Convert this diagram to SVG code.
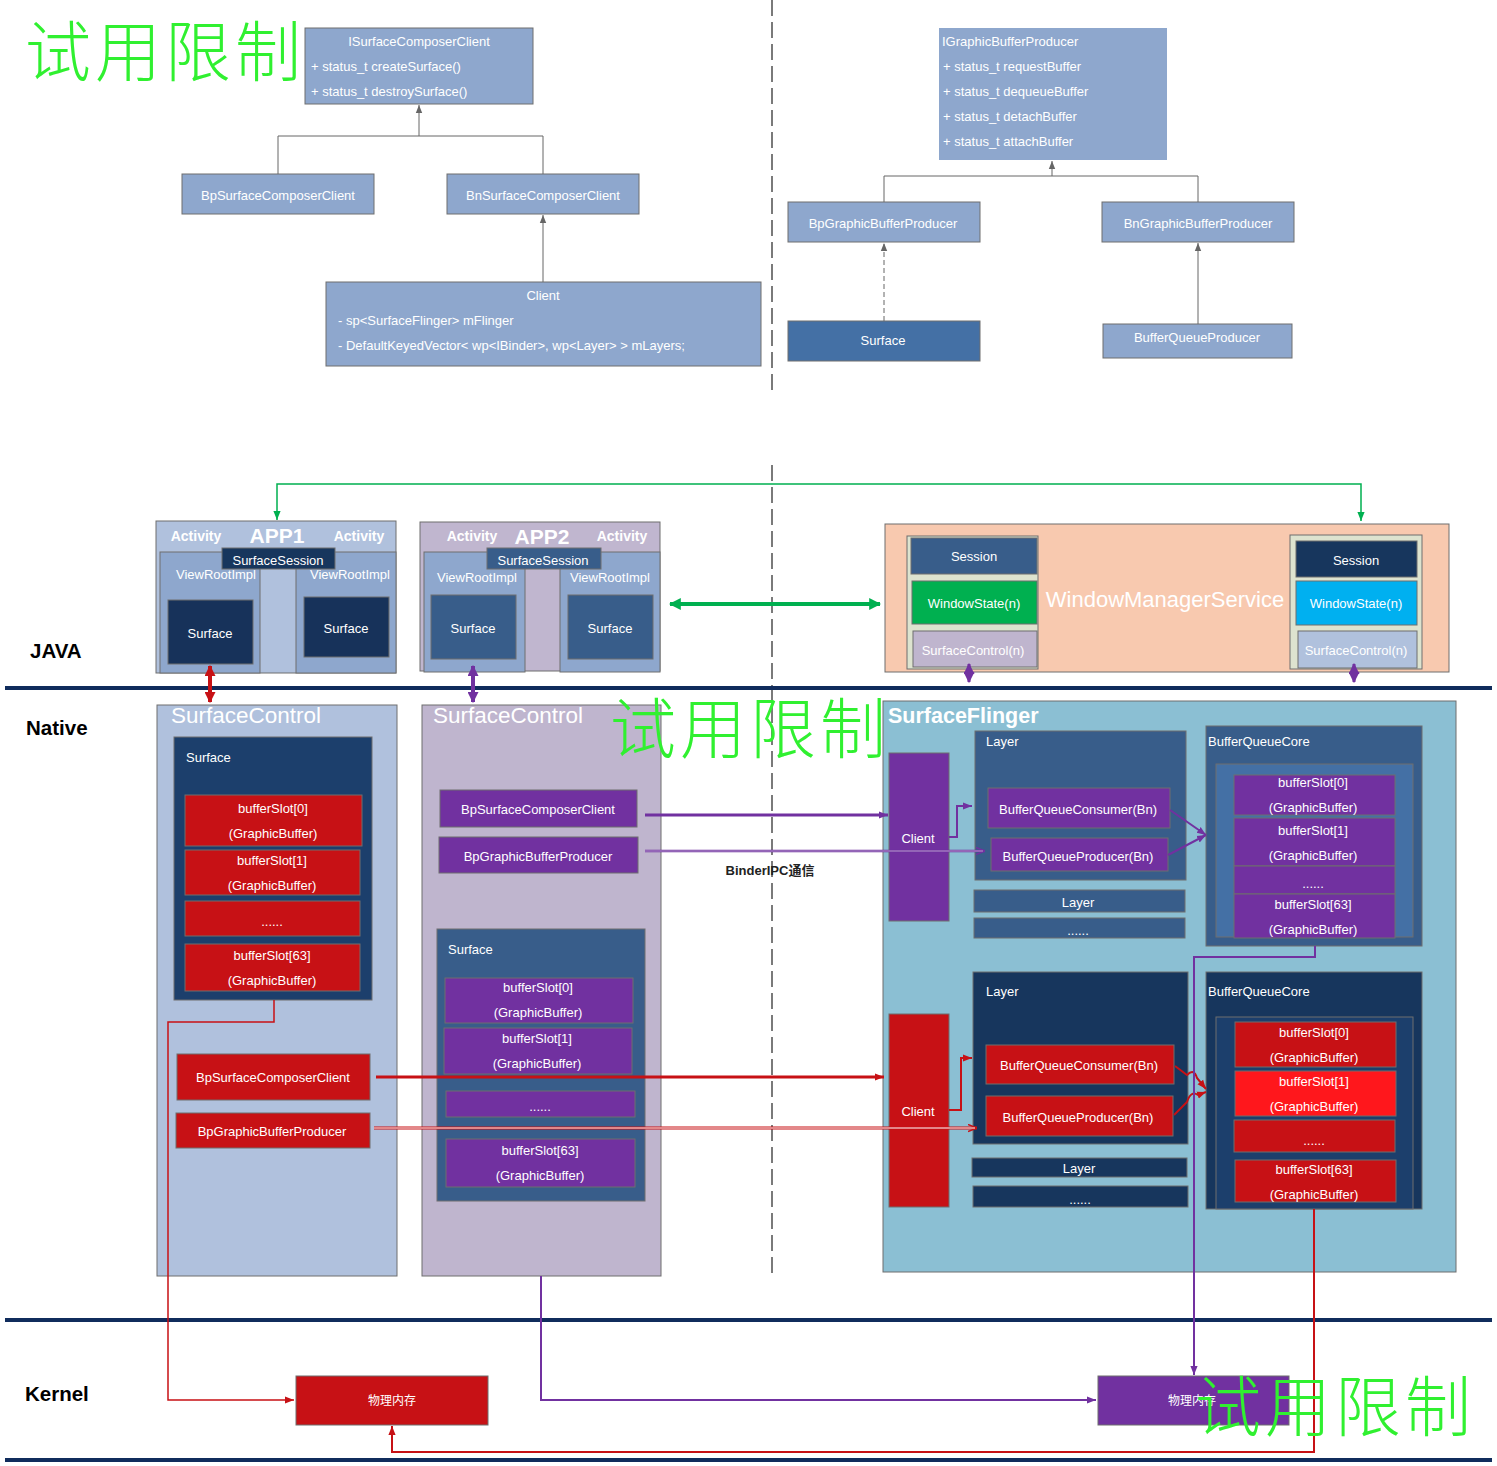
<svg xmlns="http://www.w3.org/2000/svg" width="1497" height="1466" viewBox="0 0 1497 1466">
<defs>
<style>
text{font-family:"Liberation Sans","Noto Sans","Noto Sans CJK SC",Arial,sans-serif;font-size:13px;fill:#fff;dominant-baseline:central}
.m{text-anchor:middle}
.bx{stroke:#6E6E6E;stroke-width:1}
.uml{fill:#8EA7CD}
.red{fill:#C71115}
.pur{fill:#7131A0}
.navy{fill:#17365D}
.blu{fill:#385D8A}
.lbl{fill:#000;font-weight:bold;font-size:20.5px}
.act{font-weight:bold;font-size:14px}
.app{font-weight:bold;font-size:21px}
.title{font-size:22.5px}
.wms{font-size:22px}
.sf{font-size:21.5px;font-weight:bold}
.mem{font-size:12px}
.ipc{font-size:13px;font-weight:bold;fill:#222}
.wm{font-family:"Noto Sans CJK SC",sans-serif;font-weight:300;font-size:66px;fill:#30F030;letter-spacing:4px}
.sep{stroke:#102C5C;stroke-width:4}
</style>
<marker id="ag" viewBox="0 0 10 10" refX="10" refY="5" markerWidth="8" markerHeight="8" markerUnits="userSpaceOnUse" orient="auto-start-reverse"><path d="M0,1 L10,5 L0,9 z" fill="#666"/></marker>
<marker id="agr" viewBox="0 0 10 10" refX="10" refY="5" markerWidth="9" markerHeight="9" markerUnits="userSpaceOnUse" orient="auto-start-reverse"><path d="M0,1 L10,5 L0,9 z" fill="#00B050"/></marker>
<marker id="agrT" viewBox="0 0 10 10" refX="9" refY="5" markerWidth="12" markerHeight="12" markerUnits="userSpaceOnUse" orient="auto-start-reverse"><path d="M0,0 L10,5 L0,10 z" fill="#00B050"/></marker>
<marker id="ar" viewBox="0 0 10 10" refX="9" refY="5" markerWidth="11" markerHeight="11" markerUnits="userSpaceOnUse" orient="auto-start-reverse"><path d="M0,0 L10,5 L0,10 z" fill="#C71115"/></marker>
<marker id="ars" viewBox="0 0 10 10" refX="10" refY="5" markerWidth="9" markerHeight="9" markerUnits="userSpaceOnUse" orient="auto-start-reverse"><path d="M0,1 L10,5 L0,9 z" fill="#C71115"/></marker>
<marker id="ap" viewBox="0 0 10 10" refX="9" refY="5" markerWidth="11" markerHeight="11" markerUnits="userSpaceOnUse" orient="auto-start-reverse"><path d="M0,0 L10,5 L0,10 z" fill="#7131A0"/></marker>
<marker id="aps" viewBox="0 0 10 10" refX="10" refY="5" markerWidth="9" markerHeight="9" markerUnits="userSpaceOnUse" orient="auto-start-reverse"><path d="M0,1 L10,5 L0,9 z" fill="#7131A0"/></marker>
<marker id="apo" viewBox="0 0 10 10" refX="10" refY="5" markerWidth="9" markerHeight="9" markerUnits="userSpaceOnUse" orient="auto"><path d="M0,1 L10,5 L0,9" fill="none" stroke="#7131A0" stroke-width="1.5"/></marker>
<marker id="aro" viewBox="0 0 10 10" refX="10" refY="5" markerWidth="9" markerHeight="9" markerUnits="userSpaceOnUse" orient="auto"><path d="M0,1 L10,5 L0,9" fill="none" stroke="#C71115" stroke-width="1.5"/></marker>
</defs>
<rect width="1497" height="1466" fill="#fff"/>

<!-- dashed divider and layer separators -->
<g id="dividers">
<path d="M772,0 V395 M772,465 V1275" stroke="#7A7A7A" stroke-width="2" stroke-dasharray="16,6" fill="none"/>
<line class="sep" x1="5" y1="688" x2="1492" y2="688"/>
<line class="sep" x1="5" y1="1320" x2="1492" y2="1320"/>
<line class="sep" x1="5" y1="1460" x2="1492" y2="1460"/>
<text class="lbl" x="30" y="650">JAVA</text>
<text class="lbl" x="26" y="727">Native</text>
<text class="lbl" x="25" y="1393">Kernel</text>
</g>

<!-- Top UML: ISurfaceComposerClient -->
<g id="n-iscc"><rect class="uml bx" x="305" y="28" width="228" height="76"/>
<text class="m" x="419" y="41">ISurfaceComposerClient</text>
<text x="311" y="66">+ status_t createSurface()</text>
<text x="311" y="91">+ status_t destroySurface()</text></g>
<g id="n-bpscc-top"><rect class="uml bx" x="182" y="174" width="192" height="40"/><text class="m" x="278" y="195">BpSurfaceComposerClient</text></g>
<g id="n-bnscc-top"><rect class="uml bx" x="447" y="174" width="192" height="40"/><text class="m" x="543" y="195">BnSurfaceComposerClient</text></g>
<g id="n-client-top"><rect class="uml bx" x="326" y="282" width="435" height="84"/>
<text class="m" x="543" y="295">Client</text>
<text x="338" y="320">-   sp&lt;SurfaceFlinger&gt; mFlinger</text>
<text x="338" y="345">-   DefaultKeyedVector&lt; wp&lt;IBinder&gt;, wp&lt;Layer&gt; &gt; mLayers;</text></g>

<!-- Top UML: IGraphicBufferProducer -->
<g id="n-igbp"><rect class="uml" x="939" y="28" width="228" height="132"/>
<text x="942" y="41">IGraphicBufferProducer</text>
<text x="943" y="66">+ status_t requestBuffer</text>
<text x="943" y="91">+ status_t dequeueBuffer</text>
<text x="943" y="116">+ status_t detachBuffer</text>
<text x="943" y="141">+ status_t attachBuffer</text></g>
<g id="n-bpgbp-top"><rect class="uml bx" x="788" y="202" width="192" height="40"/><text class="m" x="883" y="223">BpGraphicBufferProducer</text></g>
<g id="n-bngbp-top"><rect class="uml bx" x="1102" y="202" width="192" height="40"/><text class="m" x="1198" y="223">BnGraphicBufferProducer</text></g>
<g id="n-surface-top"><rect class="bx" fill="#4470A5" x="788" y="321" width="192" height="40"/><text class="m" x="883" y="340">Surface</text></g>
<g id="n-bqp-top"><rect class="uml bx" x="1103" y="324" width="189" height="34"/><text class="m" x="1197" y="337">BufferQueueProducer</text></g>

<!-- JAVA layer: APP1 -->
<g id="n-app1">
<rect class="bx" fill="#B0C1DD" x="156" y="521" width="240" height="152"/>
<text class="act m" x="196" y="536">Activity</text>
<text class="app m" x="277" y="535">APP1</text>
<text class="act m" x="359" y="536">Activity</text>
<rect class="bx uml" x="160" y="552" width="100" height="121"/>
<rect class="bx uml" x="296" y="552" width="100" height="121"/>
<text class="m" x="216" y="574">ViewRootImpl</text>
<text class="m" x="350" y="574">ViewRootImpl</text>
<rect class="bx" fill="#17325A" x="168" y="600" width="85" height="64"/><text class="m" x="210" y="633">Surface</text>
<rect class="bx" fill="#17325A" x="304" y="597" width="85" height="60"/><text class="m" x="346" y="628">Surface</text>
<rect class="bx navy" x="222" y="548" width="113" height="21"/><text class="m" x="278" y="560">SurfaceSession</text>
</g>
<!-- JAVA layer: APP2 -->
<g id="n-app2">
<rect class="bx" fill="#C0B6CF" x="420" y="522" width="240" height="149"/>
<text class="act m" x="472" y="536">Activity</text>
<text class="app m" x="542" y="536">APP2</text>
<text class="act m" x="622" y="536">Activity</text>
<rect class="bx uml" x="424" y="552" width="101" height="120"/>
<rect class="bx uml" x="560" y="552" width="100" height="120"/>
<text class="m" x="477" y="577">ViewRootImpl</text>
<text class="m" x="610" y="577">ViewRootImpl</text>
<rect class="bx blu" x="431" y="595" width="85" height="64"/><text class="m" x="473" y="628">Surface</text>
<rect class="bx blu" x="568" y="595" width="85" height="64"/><text class="m" x="610" y="628">Surface</text>
<rect class="bx blu" x="487" y="548" width="114" height="21"/><text class="m" x="543" y="560">SurfaceSession</text>
</g>
<!-- WindowManagerService -->
<g id="n-wms">
<rect class="bx" fill="#F8C9AF" x="885" y="524" width="564" height="148"/>
<text class="m wms" x="1165" y="599">WindowManagerService</text>
<rect class="bx" fill="#DDE3CF" x="907" y="536" width="131" height="133"/>
<rect class="bx blu" x="911" y="538" width="126" height="36"/><text class="m" x="974" y="556">Session</text>
<rect class="bx" fill="#00B050" x="912" y="581" width="125" height="43"/><text class="m" x="974" y="603">WindowState(n)</text>
<rect class="bx" fill="#BFB5CE" x="913" y="631" width="124" height="36"/><text class="m" x="973" y="650">SurfaceControl(n)</text>
<rect class="bx" fill="#DDE3CF" x="1290" y="535" width="132" height="134"/>
<rect class="bx navy" x="1296" y="541" width="121" height="36"/><text class="m" x="1356" y="560">Session</text>
<rect class="bx" fill="#00B0F0" x="1296" y="581" width="121" height="44"/><text class="m" x="1356" y="603">WindowState(n)</text>
<rect class="bx" fill="#B0C1DD" x="1298" y="631" width="119" height="37"/><text class="m" x="1356" y="650">SurfaceControl(n)</text>
</g>

<!-- Native: left SurfaceControl -->
<g id="n-sc1">
<rect class="bx" fill="#B0C1DD" x="157" y="705" width="240" height="571"/>
<text class="title" x="171" y="715">SurfaceControl</text>
<rect class="bx" fill="#1C3F6C" x="174" y="737" width="198" height="263"/>
<text x="186" y="757">Surface</text>
<rect class="bx red" x="185" y="795" width="177" height="51"/><text class="m" x="273" y="808">bufferSlot[0]</text><text class="m" x="273" y="833">(GraphicBuffer)</text>
<rect class="bx red" x="185" y="850" width="175" height="45"/><text class="m" x="272" y="860">bufferSlot[1]</text><text class="m" x="272" y="885">(GraphicBuffer)</text>
<rect class="bx red" x="185" y="901" width="175" height="35"/><text class="m" x="272" y="921">......</text>
<rect class="bx red" x="185" y="944" width="175" height="47"/><text class="m" x="272" y="955">bufferSlot[63]</text><text class="m" x="272" y="980">(GraphicBuffer)</text>
<rect class="bx red" x="177" y="1054" width="193" height="46"/><text class="m" x="273" y="1077">BpSurfaceComposerClient</text>
<rect class="bx red" x="176" y="1113" width="194" height="35"/><text class="m" x="272" y="1131">BpGraphicBufferProducer</text>
</g>
<!-- Native: middle SurfaceControl -->
<g id="n-sc2">
<rect class="bx" fill="#BFB5CE" x="422" y="705" width="239" height="571"/>
<text class="title" x="433" y="715">SurfaceControl</text>
<rect class="bx pur" x="440" y="790" width="197" height="37"/><text class="m" x="538" y="809">BpSurfaceComposerClient</text>
<rect class="bx pur" x="439" y="837" width="199" height="36"/><text class="m" x="538" y="856">BpGraphicBufferProducer</text>
<rect class="bx blu" x="437" y="929" width="208" height="272"/>
<text x="448" y="949">Surface</text>
<rect class="bx pur" x="445" y="978" width="188" height="45"/><text class="m" x="538" y="987">bufferSlot[0]</text><text class="m" x="538" y="1012">(GraphicBuffer)</text>
<rect class="bx pur" x="444" y="1028" width="188" height="46"/><text class="m" x="537" y="1038">bufferSlot[1]</text><text class="m" x="537" y="1063">(GraphicBuffer)</text>
<rect class="bx pur" x="446" y="1091" width="189" height="26"/><text class="m" x="540" y="1106">......</text>
<rect class="bx pur" x="446" y="1139" width="189" height="48"/><text class="m" x="540" y="1150">bufferSlot[63]</text><text class="m" x="540" y="1175">(GraphicBuffer)</text>
</g>
<!-- Native: SurfaceFlinger -->
<g id="n-sf">
<rect class="bx" fill="#8BBFD3" x="883" y="701" width="573" height="571"/>
<text class="sf" x="888" y="716">SurfaceFlinger</text>
<rect class="bx pur" x="889" y="753" width="60" height="168"/><text class="m" x="918" y="838">Client</text>
<rect class="bx blu" x="975" y="731" width="211" height="149"/><text x="986" y="741">Layer</text>
<rect class="bx pur" x="988" y="788" width="182" height="40"/><text class="m" x="1078" y="809">BufferQueueConsumer(Bn)</text>
<rect class="bx pur" x="991" y="838" width="177" height="33"/><text class="m" x="1078" y="856">BufferQueueProducer(Bn)</text>
<rect class="bx blu" x="974" y="890" width="211" height="22"/><text class="m" x="1078" y="902">Layer</text>
<rect class="bx blu" x="974" y="918" width="211" height="20"/><text class="m" x="1078" y="930">......</text>
<rect class="bx blu" x="1206" y="726" width="216" height="220"/><text x="1208" y="741">BufferQueueCore</text>
<rect class="bx" fill="#4470A5" x="1216" y="764" width="197" height="173"/>
<rect class="bx pur" x="1234" y="775" width="161" height="40"/><text class="m" x="1313" y="782">bufferSlot[0]</text><text class="m" x="1313" y="807">(GraphicBuffer)</text>
<rect class="bx pur" x="1234" y="818" width="161" height="48"/><text class="m" x="1313" y="830">bufferSlot[1]</text><text class="m" x="1313" y="855">(GraphicBuffer)</text>
<rect class="bx pur" x="1234" y="866" width="161" height="28"/><text class="m" x="1313" y="883">......</text>
<rect class="bx pur" x="1234" y="894" width="161" height="44"/><text class="m" x="1313" y="904">bufferSlot[63]</text><text class="m" x="1313" y="929">(GraphicBuffer)</text>
<rect class="bx red" x="889" y="1014" width="60" height="193"/><text class="m" x="918" y="1111">Client</text>
<rect class="bx navy" x="973" y="972" width="215" height="172"/><text x="986" y="991">Layer</text>
<rect class="bx red" x="986" y="1045" width="188" height="39"/><text class="m" x="1079" y="1065">BufferQueueConsumer(Bn)</text>
<rect class="bx red" x="986" y="1096" width="187" height="40"/><text class="m" x="1078" y="1117">BufferQueueProducer(Bn)</text>
<rect class="bx navy" x="972" y="1158" width="215" height="19"/><text class="m" x="1079" y="1168">Layer</text>
<rect class="bx navy" x="973" y="1186" width="215" height="21"/><text class="m" x="1080" y="1199">......</text>
<rect class="bx navy" x="1206" y="972" width="216" height="237"/><text x="1208" y="991">BufferQueueCore</text>
<rect class="bx" fill="#1C3F6C" x="1216" y="1017" width="197" height="192"/>
<rect class="bx red" x="1235" y="1022" width="161" height="45"/><text class="m" x="1314" y="1032">bufferSlot[0]</text><text class="m" x="1314" y="1057">(GraphicBuffer)</text>
<rect class="bx" fill="#FF171C" x="1235" y="1071" width="161" height="45"/><text class="m" x="1314" y="1081">bufferSlot[1]</text><text class="m" x="1314" y="1106">(GraphicBuffer)</text>
<rect class="bx red" x="1234" y="1120" width="161" height="32"/><text class="m" x="1314" y="1140">......</text>
<rect class="bx red" x="1235" y="1160" width="161" height="42"/><text class="m" x="1314" y="1169">bufferSlot[63]</text><text class="m" x="1314" y="1194">(GraphicBuffer)</text>
</g>

<!-- Kernel -->
<g id="n-mem1"><rect class="red" x="296" y="1376" width="192" height="49" stroke="#6E6E6E"/><text class="m mem" x="392" y="1401">物理内存</text></g>
<g id="n-mem2"><rect class="pur" x="1098" y="1376" width="191" height="49" stroke="#6E6E6E"/><text class="m mem" x="1192" y="1401">物理内存</text></g>

<!-- Connectors -->
<g id="connectors" fill="none">
<path d="M278,174 V136 H543 V174" stroke="#666"/>
<path d="M419,136 V105" stroke="#666" marker-end="url(#ag)"/>
<path d="M543,282 V215" stroke="#666" marker-end="url(#ag)"/>
<path d="M884,202 V176 H1198 V202" stroke="#666"/>
<path d="M1052,176 V161" stroke="#666" marker-end="url(#ag)"/>
<path d="M884,321 V243" stroke="#666" stroke-dasharray="5,3" marker-end="url(#ag)"/>
<path d="M1198,324 V243" stroke="#666" marker-end="url(#ag)"/>
<path d="M277,520 V484 H1361 V521" stroke="#00B050" stroke-width="1.5" marker-start="url(#agr)" marker-end="url(#agr)"/>
<path d="M670,604 H880" stroke="#00B050" stroke-width="4" marker-start="url(#agrT)" marker-end="url(#agrT)"/>
<path d="M210,666 V702" stroke="#C71115" stroke-width="4" marker-start="url(#ar)" marker-end="url(#ar)"/>
<path d="M473,666 V702" stroke="#7131A0" stroke-width="4" marker-start="url(#ap)" marker-end="url(#ap)"/>
<path d="M969,664 V682" stroke="#7131A0" stroke-width="3" marker-start="url(#ap)" marker-end="url(#ap)"/>
<path d="M1354,664 V682" stroke="#7131A0" stroke-width="3" marker-start="url(#ap)" marker-end="url(#ap)"/>
<path d="M645,815 H888" stroke="#7131A0" stroke-width="3" marker-end="url(#aps)"/>
<path d="M645,851 H985" stroke="#7131A0" stroke-width="2.5" marker-end="url(#apo)"/>
<path d="M645,851 H983" stroke="#C9B5DB" stroke-width="0.8"/>
<text class="m ipc" x="770" y="870">BinderIPC通信</text>
<path d="M376,1077 H884" stroke="#C71115" stroke-width="3" marker-end="url(#ars)"/>
<path d="M374,1128 H977" stroke="#C71115" stroke-width="3" marker-end="url(#aro)"/>
<path d="M374,1128 H975" stroke="#fff" stroke-width="1"/>
<path d="M949,837 H957 V806 H972" stroke="#7131A0" stroke-width="2" marker-end="url(#aps)"/>
<path d="M1170,810 L1206,835" stroke="#7131A0" stroke-width="2" marker-end="url(#aps)"/>
<path d="M1168,855 L1206,835" stroke="#7131A0" stroke-width="2" marker-end="url(#aps)"/>
<path d="M949,1110 H961 V1058 H972" stroke="#C71115" stroke-width="2" marker-end="url(#ars)"/>
<path d="M1175,1066 L1187,1075 Q1194,1068 1197,1078 L1206,1089" stroke="#C71115" stroke-width="2" marker-end="url(#ars)"/>
<path d="M1174,1115 L1187,1102 Q1191,1090 1198,1095 L1206,1092" stroke="#C71115" stroke-width="2" marker-end="url(#ars)"/>
<path d="M274,1000 V1022 H168 V1400 H294" stroke="#C71115" stroke-width="1.5" marker-end="url(#ars)"/>
<path d="M541,1276 V1400 H1096" stroke="#7131A0" stroke-width="2" marker-end="url(#aps)"/>
<path d="M1315,946 V957 H1194 V1375" stroke="#7131A0" stroke-width="2" marker-end="url(#aps)"/>
<path d="M1314,1209 V1452 H392 V1426" stroke="#C71115" stroke-width="2" marker-end="url(#ars)"/>
</g>

<!-- watermarks -->
<g id="watermarks">
<text class="wm" x="25" y="47">试用限制</text>
<text class="wm" x="610" y="724">试用限制</text>
<text class="wm" x="1195" y="1402">试用限制</text>
</g>
</svg>
